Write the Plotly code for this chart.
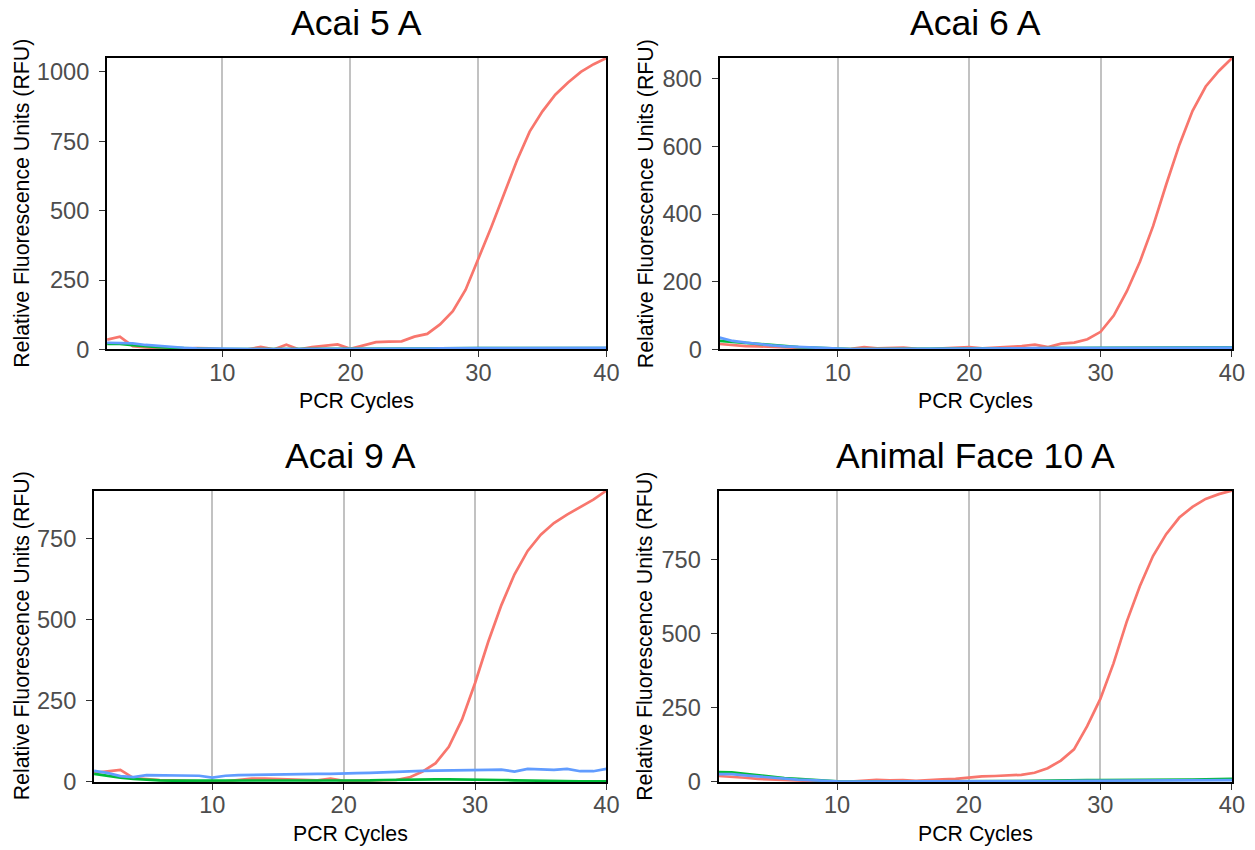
import plotly.graph_objects as go

cycles = list(range(1, 41))

titles = ["Acai 5 A", "Acai 6 A", "Acai 9 A", "Animal Face 10 A"]

acai5_red = [35, 46, 12, 7, 5, 3, 2, 5, 4, 0, 0, 0, 9, 0, 17, 0, 8, 12, 18, 2,
             14, 26, 28, 29, 46, 56, 90, 138, 215, 325, 440, 560, 680, 785, 858, 918, 962, 1000, 1028, 1050]
acai5_green = [20, 20, 15, 11, 8, 6, 4, 3, 2, 1, 1, 1, 1, 1, 1, 1, 1, 1, 1, 1,
               1, 1, 1, 2, 2, 3, 4, 5, 5, 5, 5, 5, 5, 5, 4, 4, 4, 5, 5, 5]
acai5_blue = [24, 24, 22, 16, 12, 9, 6, 4, 3, 2, 1, 1, 1, 1, 1, 1, 1, 1, 1, 1,
              1, 1, 2, 2, 2, 3, 4, 5, 5, 5, 5, 5, 5, 5, 4, 4, 4, 5, 6, 6]

acai6_red = [16, 12, 10, 9, 8, 7, 5, 3, 1, 0, 2, 7, 3, 4, 5, 2, 0, 3, 5, 7,
             3, 5, 8, 10, 14, 7, 17, 20, 30, 52, 100, 172, 260, 365, 488, 605, 705, 777, 823, 861]
acai6_green = [25, 22, 18, 14, 11, 9, 7, 5, 3, 1, 1, 1, 1, 1, 1, 2, 2, 2, 2, 2,
               3, 3, 3, 3, 3, 4, 4, 4, 4, 4, 5, 5, 5, 5, 5, 5, 5, 6, 6, 6]
acai6_blue = [35, 25, 20, 15, 12, 9, 7, 5, 3, 1, 1, 1, 1, 1, 1, 1, 1, 2, 2, 2,
              3, 3, 3, 3, 4, 4, 4, 5, 5, 5, 6, 6, 6, 6, 6, 6, 5, 5, 5, 5]

acai9_red = [28, 33, 37, 12, 8, 6, 5, 4, 3, 0, 2, 5, 10, 10, 9, 7, 6, 5, 10, 3,
             4, 5, 5, 6, 14, 32, 58, 108, 192, 305, 432, 545, 640, 712, 762, 798, 824, 848, 870, 898]
acai9_green = [25, 18, 13, 9, 6, 5, 4, 4, 3, 3, 3, 3, 3, 3, 3, 3, 3, 4, 4, 4,
               5, 5, 6, 7, 7, 7, 8, 8, 8, 7, 7, 6, 5, 4, 3, 3, 2, 2, 2, 2]
acai9_blue = [34, 28, 18, 15, 21, 21, 20, 20, 19, 13, 19, 21, 22, 22, 22, 23, 24, 25, 25, 25,
              27, 28, 30, 32, 33, 34, 35, 35, 36, 36, 37, 38, 32, 40, 39, 37, 40, 33, 33, 40]

face10_red = [20, 18, 14, 10, 8, 6, 4, 2, 1, 0, 1, 3, 7, 5, 6, 4, 7, 9, 10, 15,
              19, 20, 22, 24, 31, 46, 72, 110, 188, 280, 400, 540, 660, 762, 836, 892, 928, 955, 971, 983]
face10_green = [33, 32, 27, 22, 17, 13, 10, 7, 4, 2, 1, 1, 1, 1, 1, 1, 1, 1, 2, 2,
                2, 3, 3, 3, 4, 5, 6, 6, 6, 6, 6, 7, 7, 7, 7, 8, 8, 9, 9, 10]
face10_blue = [26, 26, 22, 18, 14, 11, 8, 6, 3, 2, 1, 1, 1, 1, 1, 1, 1, 1, 1, 1,
               1, 1, 1, 2, 2, 3, 3, 4, 4, 4, 4, 4, 4, 5, 5, 5, 5, 6, 6, 6]

x_ticks = [10, 20, 30, 40]
y_dticks = [250, 200, 250, 250]

panels = [
    (acai5_red, acai5_green, acai5_blue),
    (acai6_red, acai6_green, acai6_blue),
    (acai9_red, acai9_green, acai9_blue),
    (face10_red, face10_green, face10_blue),
]
colors = ["#F8766D", "#00BA38", "#619CFF"]

# target picture size and the (slightly larger) figure size the capture maps onto it
RW, RH = 1255, 850
W, H = 1269, 864
# plot-area boxes in picture pixels (left, right, top, bottom)
boxes = [(107, 606, 58, 349), (719, 1231, 58, 349), (94, 606, 490, 781), (718, 1231, 490, 781)]


def px(v):
    return v / RW


def py(v):
    return 1 - v / RH


FONT = "Liberation Sans, Arial, Helvetica, sans-serif"
fig = go.Figure()
layout = dict(
    width=W, height=H, margin=dict(l=0, r=0, t=0, b=0), autosize=False,
    paper_bgcolor="white", plot_bgcolor="white", showlegend=False,
    font=dict(family=FONT),
)
annotations = []
for i, (series, box, title, dt) in enumerate(zip(panels, boxes, titles, y_dticks)):
    n = "" if i == 0 else str(i + 1)
    for s, c in zip(series, colors):
        fig.add_trace(go.Scatter(x=cycles, y=s, mode="lines", line=dict(color=c, width=2.7),
                                 xaxis="x" + n, yaxis="y" + n, hoverinfo="skip"))
    l, r, t, b = box
    ymax = max(max(s) for s in series)
    common = dict(
        zeroline=False, showline=True, linecolor="black", linewidth=2, mirror=True,
        ticks="outside", ticklen=6, tickwidth=1.4, tickcolor="#333333",
        tickfont=dict(size=23.6, color="#4D4D4D", family=FONT),
    )
    layout["xaxis" + n] = dict(
        domain=[px(l), px(r)], anchor="y" + n, range=[1, 40], tickvals=x_ticks,
        showgrid=True, gridcolor="#C2C2C2", gridwidth=2, ticklabelstandoff=-5, **common,
    )
    layout["yaxis" + n] = dict(
        domain=[py(b), py(t)], anchor="x" + n, range=[0, ymax], dtick=dt, tick0=0,
        showgrid=False, ticklabelstandoff=5, **common,
    )
    cx = px((l + r) / 2)
    annotations.append(dict(text=title, x=cx, y=py(t - 35), xref="paper", yref="paper",
                            xanchor="center", yanchor="middle", showarrow=False,
                            font=dict(size=35.6, color="black", family=FONT)))
    annotations.append(dict(text="PCR Cycles", x=cx, y=py(b + 52), xref="paper", yref="paper",
                            xanchor="center", yanchor="middle", showarrow=False,
                            font=dict(size=21.3, color="black", family=FONT)))
    ax_x = 22 if i in (0, 2) else 645
    annotations.append(dict(text="Relative Fluorescence Units (RFU)", x=px(ax_x), y=py((t + b) / 2),
                            xref="paper", yref="paper", xanchor="center", yanchor="middle",
                            textangle=-90, showarrow=False,
                            font=dict(size=21.3, color="black", family=FONT)))
layout["annotations"] = annotations
fig.update_layout(**layout)
fig.write_html("out.html", config={"displayModeBar": False},
               post_script="document.body.style.margin='0';document.body.style.overflow='hidden';")
